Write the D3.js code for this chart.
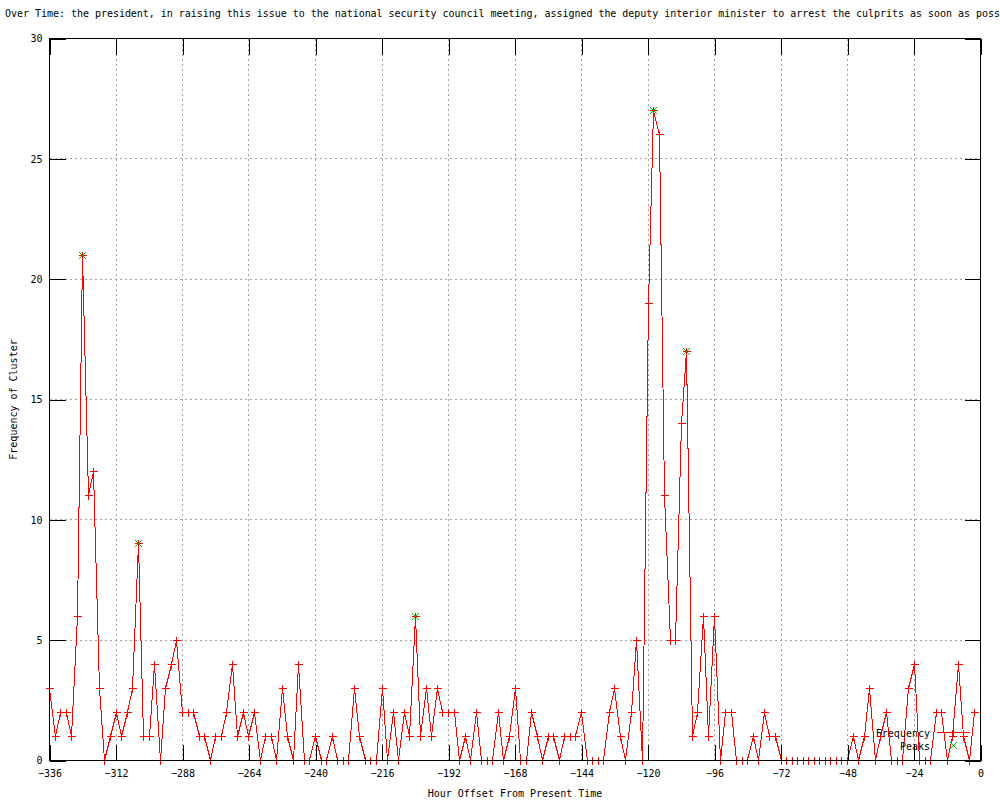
<!DOCTYPE html>
<html>
<head>
<meta charset="utf-8">
<script src="https://cdn.jsdelivr.net/npm/d3@7"></script>
<style>
  html, body { margin: 0; padding: 0; background: #fff; }
  svg { display: block; }
  text { font-family: "DejaVu Sans Mono", "Liberation Mono", monospace; font-size: 10px; fill: #000; }
</style>
</head>
<body>
<svg id="chart" width="1000" height="800"></svg>
<script>
// ---- data ----
const titleText = "Over Time: the president, in raising this issue to the national security council meeting, assigned the deputy interior minister to arrest the culprits as soon as poss";
const xLabel = "Hour Offset From Present Time";
const yLabel = "Frequency of Cluster";

const hours = [
  -336,-334,-332,-330,-328,-326,-324,-322,-320,-318,
  -316,-314,-312,-310,-308,-306,-304,-302,-300,-298,
  -296,-294,-292,-290,-288,-286,-284,-282,-280,-278,
  -276,-274,-272,-270,-268,-266,-264,-262,-260,-258,
  -256,-254,-252,-250,-248,-246,-244,-242,-240,-238,
  -236,-234,-232,-230,-228,-226,-224,-222,-220,-218,
  -216,-214,-212,-210,-208,-206,-204,-202,-200,-198,
  -196,-194,-192,-190,-188,-186,-184,-182,-180,-178,
  -176,-174,-172,-170,-168,-166,-164,-162,-160,-158,
  -156,-154,-152,-150,-148,-146,-144,-142,-140,-138,
  -136,-134,-132,-130,-128,-126,-124,-122,-120,-118,
  -116,-114,-112,-110,-108,-106,-104,-102,-100,-98,
  -96,-94,-92,-90,-88,-86,-84,-82,-80,-78,
  -76,-74,-72,-70,-68,-66,-64,-62,-60,-58,
  -56,-54,-52,-50,-48,-46,-44,-42,-40,-38,
  -36,-34,-32,-30,-28,-26,-24,-22,-20,-18,
  -16,-14,-12,-10,-8,-6,-4,-2
];
const frequency = [
  3,1,2,2,1,6,21,11,12,3,
  0,1,2,1,2,3,9,1,1,4,
  0,3,4,5,2,2,2,1,1,0,
  1,1,2,4,1,2,1,2,0,1,
  1,0,3,1,0,4,0,0,1,0,
  0,1,0,0,0,3,1,0,0,0,
  3,0,2,0,2,1,6,1,3,1,
  3,2,2,2,0,1,0,2,0,0,
  0,2,0,1,3,0,0,2,1,0,
  1,1,0,1,1,1,2,0,0,0,
  0,2,3,1,0,2,5,0,19,27,
  26,11,5,5,14,17,1,2,6,1,
  6,0,2,2,0,0,0,1,0,2,
  1,1,0,0,0,0,0,0,0,0,
  0,0,0,0,0,1,0,1,3,0,
  1,2,0,0,0,3,4,0,0,0,
  2,2,0,1,4,1,0,2
];
const peakHours = [-324, -304, -204, -118, -106];
const peakValues = [21, 9, 6, 27, 17];

const xTicks = [-336,-312,-288,-264,-240,-216,-192,-168,-144,-120,-96,-72,-48,-24,0];
const yTicks = [0,5,10,15,20,25,30];
const legendLabels = ["Frequency", "Peaks"];

// ---- layout ----
const L = 49.5, R = 980.5, T = 38.5, B = 760.5;
const svg = d3.select("#chart");
const x = d3.scaleLinear().domain([-336, 0]).range([L, R]);
const y = d3.scaleLinear().domain([0, 30]).range([B, T]);
const snap = v => Math.floor(v) + 0.5;

// grid
const grid = svg.append("g").attr("stroke", "#a0a0a0").attr("stroke-dasharray", "2,3")
  .attr("shape-rendering", "crispEdges");
grid.selectAll("line.gx").data(xTicks).join("line")
  .attr("x1", d => snap(x(d))).attr("x2", d => snap(x(d)))
  .attr("y1", T).attr("y2", B);
grid.selectAll("line.gy").data(yTicks).join("line")
  .attr("y1", d => snap(y(d))).attr("y2", d => snap(y(d)))
  .attr("x1", L).attr("x2", R);

// data line
const pts = hours.map((h, i) => [h, frequency[i]]);
svg.append("path").datum(pts)
  .attr("fill", "none").attr("stroke", "#ff0000").attr("stroke-width", 1)
  .attr("shape-rendering", "crispEdges")
  .attr("d", d3.line().x(d => snap(x(d[0]))).y(d => snap(y(d[1]))));

// crosses
const plusPath = "M-4,0H4M0,-4V4";
const xPath = "M-3.5,-3.5L3.5,3.5M-3.5,3.5L3.5,-3.5";
svg.append("g").selectAll("path").data(pts).join("path")
  .attr("transform", d => `translate(${snap(x(d[0]))},${snap(y(d[1]))})`)
  .attr("d", plusPath).attr("stroke", "#ff0000").attr("fill", "none")
  .attr("shape-rendering", "crispEdges");

// peaks
const peaks = peakHours.map((h, i) => [h, peakValues[i]]);
svg.append("g").selectAll("path").data(peaks).join("path")
  .attr("transform", d => `translate(${snap(x(d[0]))},${snap(y(d[1]))})`)
  .attr("d", xPath).attr("stroke", "#00c000").attr("fill", "none")
  .attr("shape-rendering", "crispEdges");

// axes (ticks inward, mirrored)
function styleAxis(g) {
  g.select(".domain").remove();
  g.selectAll(".tick line").attr("stroke", "#000").attr("shape-rendering", "crispEdges");
  g.selectAll(".tick text").attr("font-family", "DejaVu Sans Mono").attr("font-size", 10).attr("fill", "#000");
}
svg.append("g").attr("transform", `translate(0,${B})`)
  .call(d3.axisBottom(x).tickValues(xTicks).tickFormat(d3.format("d")).tickSize(-16).tickPadding(9))
  .call(styleAxis);
svg.append("g").attr("transform", `translate(0,${T})`)
  .call(d3.axisTop(x).tickValues(xTicks).tickFormat("").tickSize(-16))
  .call(styleAxis);
svg.append("g").attr("transform", `translate(${L},0)`)
  .call(d3.axisLeft(y).tickValues(yTicks).tickFormat(d3.format("d")).tickSize(-16).tickPadding(7))
  .call(styleAxis);
svg.append("g").attr("transform", `translate(${R},0)`)
  .call(d3.axisRight(y).tickValues(yTicks).tickFormat("").tickSize(-16))
  .call(styleAxis);

// border
svg.append("rect").attr("x", L).attr("y", T).attr("width", R - L).attr("height", B - T)
  .attr("fill", "none").attr("stroke", "#000").attr("shape-rendering", "crispEdges");

// legend
const lg = svg.append("g");
lg.append("text").attr("x", 930).attr("y", 737).attr("text-anchor", "end").text(legendLabels[0]);
lg.append("text").attr("x", 930).attr("y", 750).attr("text-anchor", "end").text(legendLabels[1]);
lg.append("line").attr("x1", 937).attr("x2", 970).attr("y1", 732.5).attr("y2", 732.5)
  .attr("stroke", "#ff0000").attr("shape-rendering", "crispEdges");
lg.append("path").attr("transform", "translate(953.5,732.5)").attr("d", plusPath)
  .attr("stroke", "#ff0000").attr("fill", "none").attr("shape-rendering", "crispEdges");
lg.append("path").attr("transform", "translate(953.5,745.5)").attr("d", xPath)
  .attr("stroke", "#00c000").attr("fill", "none").attr("shape-rendering", "crispEdges");

// titles
svg.append("text").attr("x", 5).attr("y", 17).attr("textLength", 995).attr("lengthAdjust", "spacing").text(titleText);
svg.append("text").attr("x", (L + R) / 2).attr("y", 797).attr("text-anchor", "middle").text(xLabel);
svg.append("text").attr("transform", `translate(17,${(T + B) / 2}) rotate(-90)`)
  .attr("text-anchor", "middle").text(yLabel);
</script>
</body>
</html>
